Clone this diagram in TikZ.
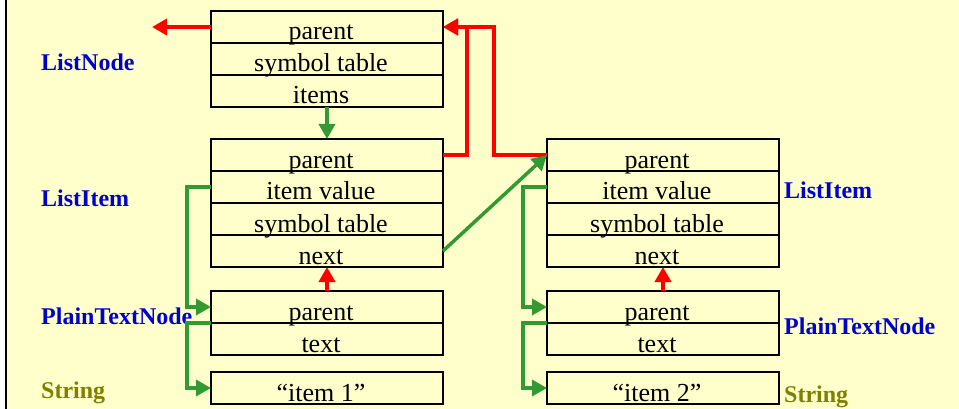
\documentclass[tikz,border=0pt]{standalone}
\usepackage{fontspec}
\setmainfont{Liberation Serif}
\usetikzlibrary{arrows.meta,positioning}
\definecolor{paper}{HTML}{FFFFCC}
\definecolor{ptrgreen}{HTML}{339933}
\definecolor{typeblue}{HTML}{0000CC}
\definecolor{typeolive}{HTML}{808000}

\begin{document}
\begin{tikzpicture}[x=1pt,y=-1pt,>={Triangle[length=15pt,width=16pt]},
    node distance=0pt,
    field/.style={draw,line width=1.5pt,outer sep=0pt,inner sep=0pt,
      minimum width=232pt,minimum height=32pt,text height=28.5pt,text depth=2.5pt,
      font=\fontsize{26}{28}\selectfont,execute at begin node=\hspace*{-12pt}},
    tname/.style={anchor=base west,inner sep=0pt,text=typeblue,
      font=\fontsize{24}{26}\selectfont\bfseries},
    redlink/.style={->,red,line width=4pt},
    greenlink/.style={->,ptrgreen,line width=3.5pt}]
  \useasboundingbox (0,0) rectangle (959,409);
  \fill[paper] (6,0) rectangle (959,409);
  \draw[line width=2pt] (6,0) -- (6,409);

  % the list node
  \node[field] (lnParent) at (327,27) {parent};
  \node[field,below=of lnParent] (lnSymtab) {symbol table};
  \node[field,below=of lnSymtab] (lnItems) {items};

  % first item, its text node and string
  \node[field,below=32pt of lnItems] (i1Parent) {parent};
  \node[field,below=of i1Parent] (i1Value) {item value};
  \node[field,below=of i1Value] (i1Symtab) {symbol table};
  \node[field,below=of i1Symtab] (i1Next) {next};
  \node[field,below=24pt of i1Next] (t1Parent) {parent};
  \node[field,below=of t1Parent] (t1Text) {text};
  \node[field,below=17pt of t1Text] (s1) {``item 1''};

  % second item
  \node[field,right=104pt of i1Parent] (i2Parent) {parent};
  \node[field,below=of i2Parent] (i2Value) {item value};
  \node[field,below=of i2Value] (i2Symtab) {symbol table};
  \node[field,below=of i2Symtab] (i2Next) {next};
  \node[field,below=24pt of i2Next] (t2Parent) {parent};
  \node[field,below=of t2Parent] (t2Text) {text};
  \node[field,below=17pt of t2Text] (s2) {``item 2''};

  % type names
  \node[tname] (lnName) at (41,71) {ListNode};
  \node[tname] (i1Name) at (41,206) {ListItem};
  \node[tname] (t1Name) at (41,324) {PlainTextNode};
  \node[tname,text=typeolive] (s1Name) at (41,398) {String};
  \node[tname] (i2Name) at (784,198) {ListItem};
  \node[tname] (t2Name) at (784,334) {PlainTextNode};
  \node[tname,text=typeolive] (s2Name) at (784,402) {String};

  % parent pointers
  \coordinate (lnUp) at (152,27);
  \draw[redlink] (lnParent.west) -- (lnUp);
  \draw[redlink] (i1Parent.east) -- ++(24,0) |- (lnParent.east);
  \draw[redlink] (i2Parent.west) -- ++(-53,0) |- (lnParent.east);
  \draw[redlink] (t1Parent.north) -- (i1Next.south);
  \draw[redlink] (t2Parent.north) -- (i2Next.south);

  % child and value pointers
  \draw[greenlink] (lnItems.south) -- (i1Parent.north);
  \draw[greenlink] (i1Next.east) -- (i2Parent.west);
  \draw[greenlink] (i1Value.west) -- ++(-24,0) |- (t1Parent.west);
  \draw[greenlink] (t1Text.north west) -- ++(-24,0) |- (s1.west);
  \draw[greenlink] (i2Value.west) -- ++(-24,0) |- (t2Parent.west);
  \draw[greenlink] (t2Text.north west) -- ++(-24,0) |- (s2.west);
\end{tikzpicture}
\end{document}
